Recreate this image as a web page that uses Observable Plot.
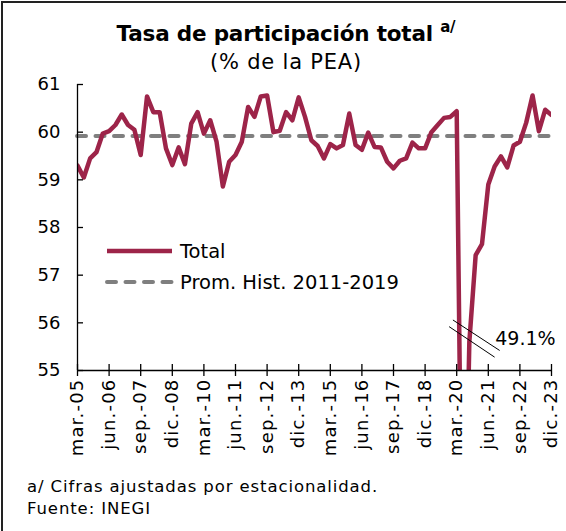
<!DOCTYPE html>
<html>
<head>
<meta charset="utf-8">
<script src="https://cdn.jsdelivr.net/npm/d3@7"></script>
<script src="https://cdn.jsdelivr.net/npm/@observablehq/plot@0.6"></script>
<style>
  body { margin: 0; background: #fff; font-family: "DejaVu Sans", sans-serif; color: #000; }
  #wrap { position: relative; width: 566px; height: 531px; overflow: hidden; background: #fff; }
  .bt { position: absolute; left: 1px; top: 1px; width: 565px; height: 2px; background: #222; }
  .bl { position: absolute; left: 1px; top: 1px; width: 2px; height: 530px; background: #222; }
  #title { position: absolute; top: 19px; left: 0; width: 572px; text-align: center; font-weight: bold; font-size: 21.5px; letter-spacing: -0.2px; }
  #title sup { font-size: 15px; font-weight: bold; position: relative; top: -1px; }
  #sub { position: absolute; top: 50px; left: 0; width: 572px; text-align: center; font-size: 21px; letter-spacing: 0.8px; }
  #chart { position: absolute; top: 70px; left: 0; }
  #chart svg g[aria-label="x-axis tick label"] text { letter-spacing: 1.2px; }
  #legend { position: absolute; left: 100px; top: 236px; }
  #notes { position: absolute; left: 27px; top: 476px; font-size: 16.5px; line-height: 22px; letter-spacing: 0.9px; }
</style>
</head>
<body>
<div id="wrap">
  <div class="bt"></div><div class="bl"></div>
  <div id="title">Tasa de participación total <sup>a/</sup></div>
  <div id="sub">(% de la PEA)</div>
  <div id="chart"></div>
  <div id="legend"></div>
  <div id="notes">a/ Cifras ajustadas por estacionalidad.<br>Fuente: INEGI</div>
</div>
<script>
// ---- data ----
const monthNames = ["mar", "jun", "sep", "dic"];
const years = [2005,2006,2007,2008,2009,2010,2011,2012,2013,2014,2015,2016,2017,2018,2019,2020,2021,2022,2023];
const values = [
  59.30, 59.05, 59.45, 59.58, 59.97, 60.02, 60.15, 60.37,
  60.15, 60.05, 59.52, 60.75, 60.42, 60.42, 59.66, 59.31,
  59.68, 59.33, 60.18, 60.42, 59.97, 60.25, 59.80, 58.86,
  59.38, 59.52, 59.80, 60.53, 60.32, 60.75, 60.77, 60.00,
  60.03, 60.42, 60.25, 60.73, 60.32, 59.83, 59.71, 59.45,
  59.75, 59.66, 59.73, 60.39, 59.73, 59.63, 59.99, 59.69,
  59.68, 59.38, 59.24, 59.40, 59.45, 59.78, 59.66, 59.66,
  60.00, 60.15, 60.30, 60.32, 60.44, 49.10, 55.60, 57.42,
  57.65, 58.90, 59.28, 59.49, 59.26, 59.72, 59.80, 60.20,
  60.77, 60.02, 60.47, 60.36
];
const histAvg = 59.92; // Prom. Hist. 2011-2019
const tickLabels = ["mar.-05","jun.-06","sep.-07","dic.-08","mar.-10","jun.-11","sep.-12","dic.-13",
                    "mar.-15","jun.-16","sep.-17","dic.-18","mar.-20","jun.-21","sep.-22","dic.-23"];
const yTicks = [55, 56, 57, 58, 59, 60, 61];
const seriesNames = ["Total", "Prom. Hist. 2011-2019"];
const dipLabelPos = {dx: 5.1, y: 55.67};
const breakMarks = [
  {x1: 59.4, y1: 56.06, x2: 66.8, y2: 55.42},
  {x1: 58.8, y1: 55.92, x2: 66.0, y2: 55.28}
];

// ---- build ----
const WINE = "#9D2449", GREY = "#7F7F7F";
const FONT = '"DejaVu Sans", sans-serif';
const periods = [];
years.forEach(y => monthNames.forEach(m => periods.push(`${m}.-${String(y).slice(2)}`)));
const data = values.map((v, i) => ({i, v, period: periods[i]}));
const tickIdx = tickLabels.map(l => periods.indexOf(l));
const dip = data.reduce((a, b) => (b.v < a.v ? b : a));

const chart = Plot.plot({
  width: 566,
  height: 390,
  marginTop: 14,
  marginBottom: 90,
  marginLeft: 77,
  marginRight: 15,
  x: {domain: [0, values.length - 1]},
  y: {domain: [55, 61]},
  style: {fontFamily: FONT, fontSize: "17px", color: "#000", background: "transparent", overflow: "visible"},
  marks: [
    Plot.ruleY([histAvg], {stroke: GREY, strokeWidth: 4, strokeDasharray: "9,9.5", strokeLinecap: "round"}),
    Plot.lineY(data, {x: "i", y: "v", stroke: WINE, strokeWidth: 4.5, clip: true}),
    Plot.ruleX([0], {stroke: "#000", strokeWidth: 1.3}),
    Plot.ruleY([55], {stroke: "#000", strokeWidth: 1.3}),
    Plot.axisY({ticks: yTicks, tickSize: 0, tickPadding: 17, label: null, fontSize: 18, tickFormat: d => String(d)}),
    Plot.axisY({ticks: yTicks, tickSize: 6, dx: 6, tickFormat: () => "", label: null, strokeWidth: 1.3}),
    Plot.axisX({ticks: tickIdx, tickSize: 12, dy: -6, tickFormat: () => "", label: null, strokeWidth: 1.3}),
    Plot.axisX({ticks: tickIdx, tickSize: 0, tickPadding: 8, tickRotate: -90, tickFormat: i => periods[i], label: null, fontSize: 18}),
    Plot.link(breakMarks, {x1: "x1", y1: "y1", x2: "x2", y2: "y2", stroke: "#000", strokeWidth: 1}),
    Plot.text([dip], {x: d => d.i + dipLabelPos.dx, y: () => dipLabelPos.y, text: d => `${d.v.toFixed(1)}%`, textAnchor: "start", fontSize: 19})
  ]
});
document.getElementById("chart").appendChild(chart);

// ---- legend ----
const lg = d3.select("#legend").append("svg").attr("width", 330).attr("height", 60);
const items = [
  {name: seriesNames[0], stroke: WINE, dash: null, w: 4.5},
  {name: seriesNames[1], stroke: GREY, dash: "9,9.5", w: 4}
];
items.forEach((it, k) => {
  const y = 15 + k * 31;
  lg.append("line").attr("x1", 7).attr("x2", 72).attr("y1", y).attr("y2", y)
    .attr("stroke", it.stroke).attr("stroke-width", it.w)
    .attr("stroke-dasharray", it.dash).attr("stroke-linecap", it.dash ? "round" : "butt");
  lg.append("text").attr("x", 80).attr("y", y).attr("dy", "0.35em")
    .attr("font-family", FONT).attr("font-size", 19.5).text(it.name);
});
</script>
</body>
</html>
